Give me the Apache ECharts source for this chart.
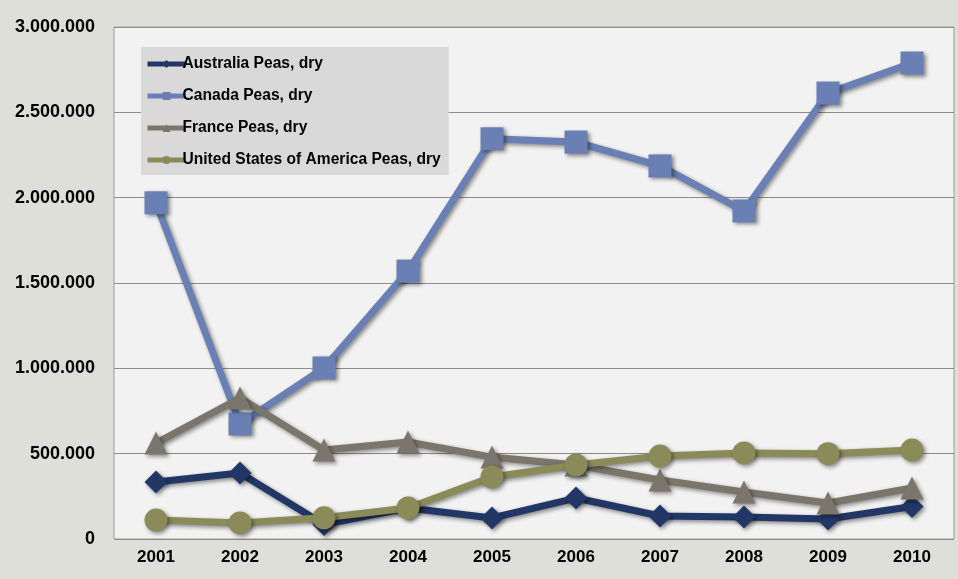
<!DOCTYPE html>
<html>
<head>
<meta charset="utf-8">
<script src="https://cdn.jsdelivr.net/npm/echarts@6/dist/echarts.min.js"></script>
<style>
  html, body { margin: 0; padding: 0; background: #dfdfd9; }
  #chart { width: 958px; height: 579px; }
</style>
</head>
<body>
<div id="chart"></div>
<script>
// Dry pea production by country, 2001-2010 (tonnes)
const years = ['2001', '2002', '2003', '2004', '2005', '2006', '2007', '2008', '2009', '2010'];
const australia = [334000, 387000, 85000, 182000, 123000, 240000, 135000, 129000, 117000, 190000];
const canada = [1970000, 674000, 1002000, 1570000, 2345000, 2326000, 2186000, 1922000, 2613000, 2789000];
const france = [562000, 826000, 521000, 568000, 480000, 434000, 346000, 275000, 211000, 299000];
const usa = [111000, 94000, 124000, 182000, 363000, 434000, 486000, 504000, 500000, 521000];
const yTicks = [0, 500000, 1000000, 1500000, 2000000, 2500000, 3000000];

const fmt = v => String(v).replace(/\B(?=(\d{3})+(?!\d))/g, '.');

const shadow = {
  shadowColor: 'rgba(0,0,0,0.45)',
  shadowBlur: 4,
  shadowOffsetX: 2,
  shadowOffsetY: 2
};

const FONT = 'Liberation Sans, Arial, sans-serif';

function makeSeries(name, data, color, symbol, size) {
  return {
    name: name,
    type: 'line',
    data: data,
    symbol: symbol,
    symbolSize: size,
    showAllSymbol: true,
    lineStyle: Object.assign({ color: color, width: 7 }, shadow),
    itemStyle: Object.assign({ color: color }, shadow),
    emphasis: { disabled: true },
    z: 2
  };
}

const chart = echarts.init(document.getElementById('chart'));
chart.setOption({
  backgroundColor: '#dfdfd9',
  animation: false,
  grid: {
    left: 114, right: 4, top: 27, bottom: 40,
    show: true,
    backgroundColor: '#f2f2f2',
    borderColor: '#9a9a9a',
    borderWidth: 1
  },
  legend: {
    orient: 'vertical',
    left: 141,
    top: 47,
    padding: [8, 8, 6, 4],
    itemGap: 14,
    itemWidth: 38,
    itemHeight: 10,
    backgroundColor: '#d9d9d9',
    lineStyle: { width: 5 },
    textStyle: {
      fontFamily: FONT,
      fontWeight: 'bold',
      fontSize: 15.6,
      lineHeight: 18,
      color: '#000',
      padding: [0, 0, 0, -8]
    },
    data: ['Australia Peas, dry', 'Canada Peas, dry', 'France Peas, dry', 'United States of America Peas, dry']
  },
  xAxis: {
    type: 'category',
    data: years,
    boundaryGap: true,
    axisLine: { show: false },
    axisTick: { show: false },
    axisLabel: {
      margin: 10,
      fontFamily: FONT,
      fontWeight: 'bold',
      fontSize: 17,
      color: '#000'
    }
  },
  yAxis: {
    type: 'value',
    min: yTicks[0],
    max: yTicks[yTicks.length - 1],
    interval: yTicks[1] - yTicks[0],
    axisLine: { show: false },
    axisTick: { show: false },
    splitLine: { lineStyle: { color: '#8c8c8c', width: 1 } },
    axisLabel: {
      margin: 19,
      fontFamily: FONT,
      fontWeight: 'bold',
      fontSize: 18,
      color: '#000',
      formatter: fmt
    }
  },
  series: [
    makeSeries('Australia Peas, dry', australia, '#233766', 'diamond', 23),
    makeSeries('Canada Peas, dry', canada, '#6a80b4', 'rect', 23),
    makeSeries('France Peas, dry', france, '#7b766b', 'triangle', 23),
    makeSeries('United States of America Peas, dry', usa, '#8b8b5a', 'circle', 23)
  ]
});
</script>
</body>
</html>
